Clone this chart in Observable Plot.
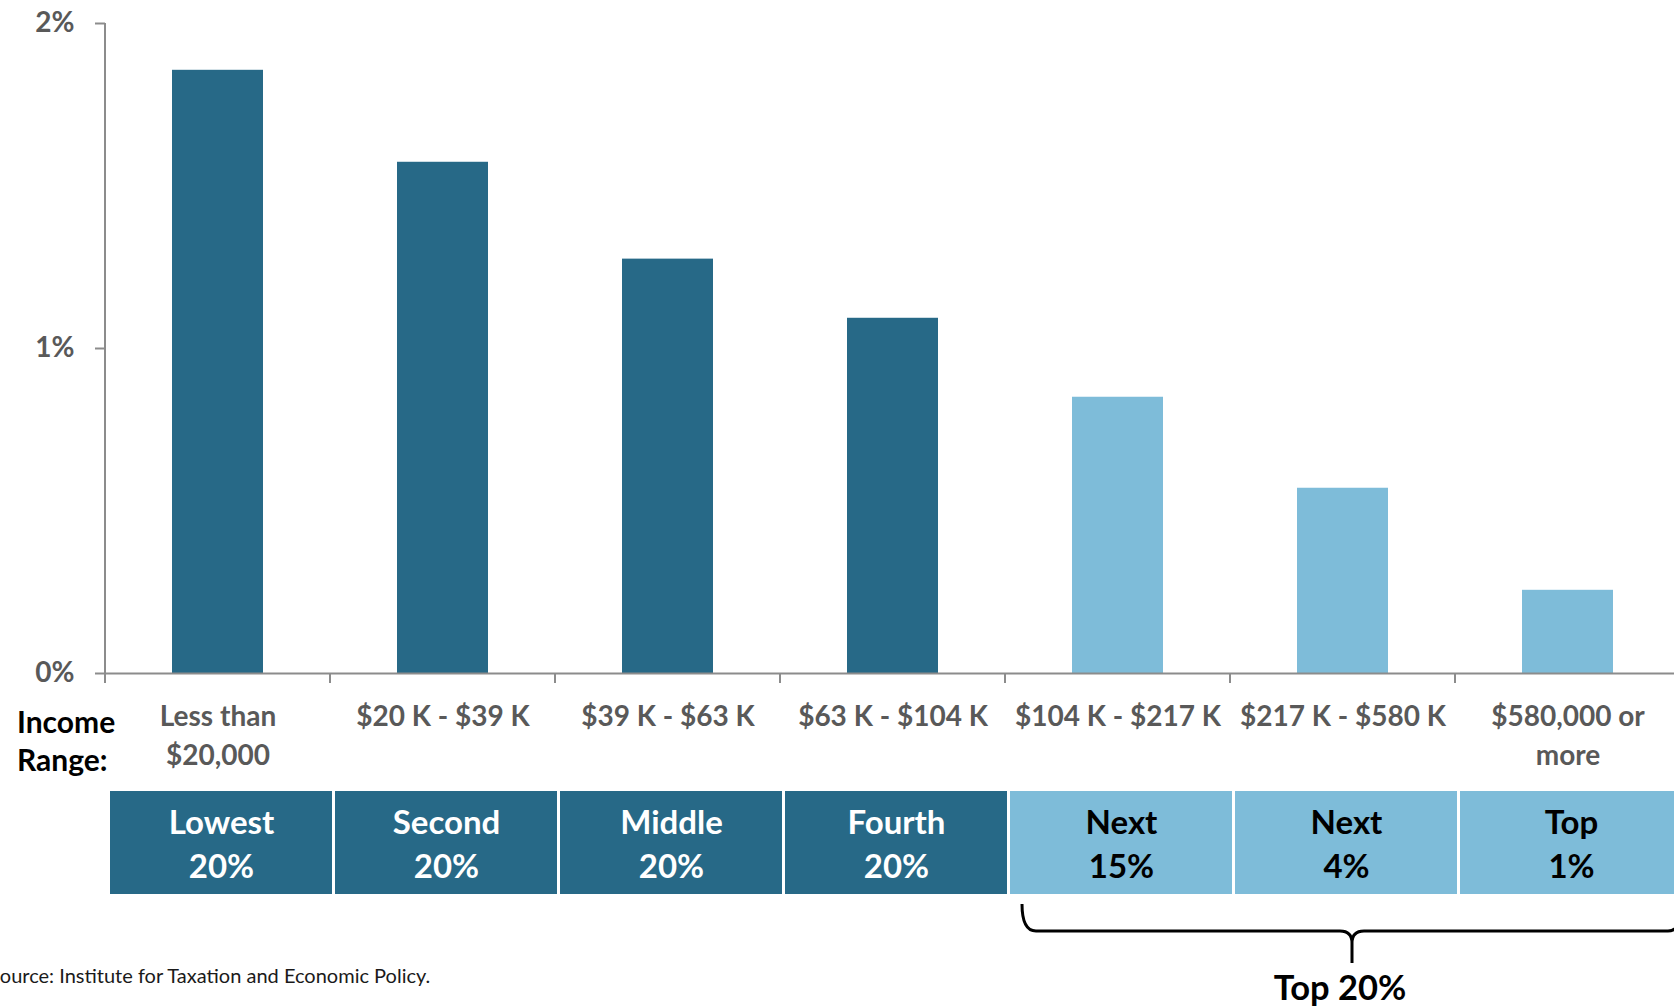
<!DOCTYPE html>
<html><head><meta charset="utf-8">
<script src="https://cdn.jsdelivr.net/npm/d3@7"></script>
<script src="https://cdn.jsdelivr.net/npm/@observablehq/plot@0.6"></script>
<style>
html,body{margin:0;padding:0;background:#fff;overflow:hidden;}
#wrap{position:relative;width:1674px;height:1007px;overflow:hidden;font-family:Lato,sans-serif;background:#fff;}
#wrap svg{display:block;}
#income{position:absolute;left:17px;top:702px;font-weight:700;font-size:30px;line-height:38.4px;color:#000;}
#source{position:absolute;left:-11px;top:963px;font-size:20px;color:#1a1a1a;white-space:nowrap;}
</style></head><body>
<div id="wrap"><div id="chart"></div><div id="strip"></div>
<div id="income">Income<br>Range:</div>
<div id="source">Source: Institute for Taxation and Economic Policy.</div>
</div>
<script>
const incomeRanges = ["Less than\n$20,000", "$20 K - $39 K", "$39 K - $63 K", "$63 K - $104 K", "$104 K - $217 K", "$217 K - $580 K", "$580,000 or\nmore"];
const groupLabels = ["Lowest\n20%", "Second\n20%", "Middle\n20%", "Fourth\n20%", "Next\n15%", "Next\n4%", "Top\n1%"];
const shareValues = [1.856, 1.573, 1.275, 1.093, 0.850, 0.570, 0.256];
const isTop20 = [false, false, false, false, true, true, true];
const yTicks = [0, 1, 2];
const bracketLabel = "Top 20%";

const DARK = "#276987", LIGHT = "#7EBCD9", AXIS = "#8C8C8C", LABEL = "#595959";
const rows = incomeRanges.map((r, i) => ({range: r, group: groupLabels[i], value: shareValues[i], top: isTop20[i]}));

function axisDecor(index, scales) {
  const x = scales.x, y = scales.y;
  const step = x.step(), bw = x.bandwidth();
  const start = x(incomeRanges[0]) - (step - bw) / 2;
  const g = d3.create("svg:g").attr("stroke", AXIS).attr("stroke-width", 2).attr("fill", "none");
  const y0 = y(0);
  g.append("line").attr("x1", start).attr("x2", start).attr("y1", y(2)).attr("y2", y0 + 10);
  for (let i = 1; i <= incomeRanges.length; i++) {
    const xb = start + i * step;
    g.append("line").attr("x1", xb).attr("x2", xb).attr("y1", y0).attr("y2", y0 + 10);
  }
  return g.node();
}

const chart = Plot.plot({
  width: 1674, height: 780,
  marginTop: 23, marginBottom: 107, marginLeft: 105, marginRight: 0,
  x: {domain: incomeRanges, range: [105, 1680], paddingInner: 0.596, paddingOuter: 0.298, align: 0.5},
  y: {domain: [0, 2]},
  color: {type: "identity"},
  style: {fontFamily: "Lato, sans-serif", background: "white", overflow: "visible"},
  marks: [
    Plot.barY(rows, {x: "range", y: "value", fill: d => d.top ? LIGHT : DARK}),
    Plot.ruleY([0], {stroke: AXIS, strokeWidth: 2}),
    axisDecor,
    Plot.axisY({anchor: "left", ticks: yTicks, tickFormat: d => d + "%", tickSize: 10, tickPadding: 21, stroke: AXIS, strokeWidth: 2, fill: LABEL, fontSize: 28, fontWeight: "bold", label: null}),
    Plot.axisX({anchor: "bottom", tickSize: 0, tickPadding: 25.5, fill: LABEL, fontSize: 28, fontWeight: "bold", lineHeight: 1.37, label: null})
  ]
});
document.getElementById("chart").append(chart);

function brace(index, scales) {
  const x = scales.x;
  const step = x.step(), bw = x.bandwidth();
  const xl = x(incomeRanges[4]) - (step - bw) / 2 + 17;
  const xr = x(incomeRanges[6]) - (step - bw) / 2 + step + 2;
  const xt = (xl + xr) / 2;
  const yTop = 124, yMid = 151, yTip = 183;
  const d = `M${xl},${yTop} Q${xl},${yMid} ${xl + 14},${yMid} L${xt - 12},${yMid} Q${xt},${yMid} ${xt},${yMid + 12} L${xt},${yTip}` +
            ` M${xr},${yTop} Q${xr},${yMid} ${xr - 14},${yMid} L${xt + 12},${yMid} Q${xt},${yMid} ${xt},${yMid + 12}`;
  return d3.create("svg:path").attr("d", d).attr("fill", "none").attr("stroke", "#000").attr("stroke-width", 3).node();
}

const strip = Plot.plot({
  width: 1674, height: 227,
  marginTop: 11, marginBottom: 113, marginLeft: 105, marginRight: 0,
  x: {domain: incomeRanges, range: [105, 1680], padding: 0, axis: null},
  y: {axis: null},
  color: {type: "identity"},
  style: {fontFamily: "Lato, sans-serif", background: "white", overflow: "visible"},
  marks: [
    Plot.cell(rows, {x: "range", fill: d => d.top ? LIGHT : DARK, insetLeft: 1.5, insetRight: 1.5, dx: 3.5}),
    Plot.text(rows, {x: "range", text: "group", fill: d => d.top ? "#000000" : "#ffffff", fontSize: 33, fontWeight: "bold", lineHeight: 1.34, frameAnchor: "middle", dy: -1, dx: 3.5}),
    brace,
    Plot.text([bracketLabel], {x: [incomeRanges[5]], text: d => d, frameAnchor: "bottom", dy: 105.5, dx: -3, fontSize: 34.5, fontWeight: "bold", fill: "#000000"})
  ]
});
document.getElementById("strip").append(strip);
</script>
</body></html>
